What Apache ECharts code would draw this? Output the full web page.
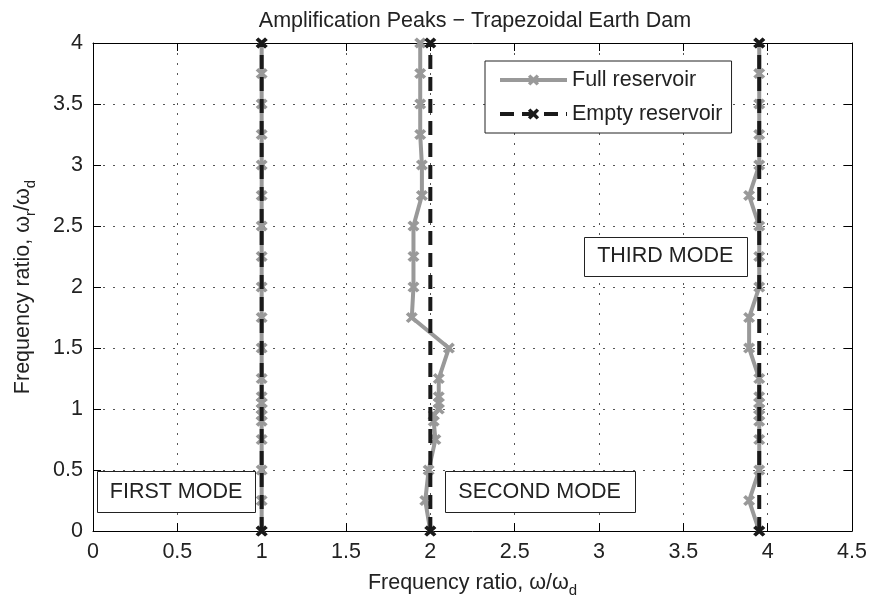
<!DOCTYPE html>
<html>
<head>
<meta charset="utf-8">
<script src="https://cdn.jsdelivr.net/npm/echarts@6/dist/echarts.min.js"></script>
<style>
  html, body { margin: 0; padding: 0; background: #fff; }
  #main { width: 872px; height: 603px; }
</style>
</head>
<body>
<div id="main"></div>
<script>
// frequency ratio wr/wd at which the peaks were read (y)
const ratioLevels = [0, 0.25, 0.5, 0.75, 0.9, 0.95, 1, 1.05, 1.1, 1.25, 1.5, 1.75, 2, 2.25, 2.5, 2.75, 3, 3.25, 3.5, 3.75, 4]
// peak positions w/wd, full reservoir
const fullFirst = [1, 1, 1, 1, 1, 1, 1, 1, 1, 1, 1, 1, 1, 1, 1, 1, 1, 1, 1, 1, 1]
const fullSecond = [2.0, 1.97, 1.99, 2.03, 2.02, 2.02, 2.05, 2.05, 2.05, 2.05, 2.11, 1.89, 1.9, 1.9, 1.9, 1.95, 1.95, 1.94, 1.94, 1.94, 1.94]
const fullThird = [3.95, 3.89, 3.95, 3.95, 3.95, 3.95, 3.95, 3.95, 3.95, 3.95, 3.89, 3.89, 3.95, 3.95, 3.95, 3.89, 3.95, 3.95, 3.95, 3.95, 3.95]
// empty reservoir (no dependence on wr)
const emptyLevels = [0, 4]
const emptyFirst = [1, 1]
const emptySecond = [2, 2]
const emptyThird = [3.95, 3.95]

const modeNames = ['FIRST MODE', 'SECOND MODE', 'THIRD MODE']
// text boxes in data units: [x0, x1, y0, y1]
const modeBoxes = [
    [0.025, 0.96, 0.15, 0.49],
    [2.085, 3.21, 0.15, 0.49],
    [2.91, 3.876, 2.09, 2.41]
]

const FONT = '"Liberation Sans", Arial, Helvetica, sans-serif'
const FS = 21.5
// bold "x" marker like matlab's with a thick line
const crossPath = 'path://M0,2.2L2.2,0L5,2.8L7.8,0L10,2.2L7.2,5L10,7.8L7.8,10L5,7.2L2.2,10L0,7.8L2.8,5Z'

const pairs = (xs, ys) => xs.map((x, i) => [x, ys[i]])

const fullStyle = (data) => ({
    name: 'Full reservoir',
    type: 'line',
    data: data,
    z: 2,
    symbol: crossPath,
    symbolSize: [12, 11],
    showAllSymbol: true,
    color: '#999999',
    lineStyle: { color: '#999999', width: 4 },
    itemStyle: { color: '#999999' },
    animation: false
})

const emptyStyle = (data) => ({
    name: 'Empty reservoir',
    type: 'line',
    data: data,
    z: 3,
    symbol: crossPath,
    symbolSize: [12, 11],
    color: '#1a1a1a',
    lineStyle: { color: '#1a1a1a', width: 4, type: [14, 8] },
    itemStyle: { color: '#1a1a1a' },
    animation: false
})

const axisCommon = {
    type: 'value',
    interval: 0.5,
    axisLine: { show: true, onZero: false, lineStyle: { color: '#000', width: 1 } },
    axisTick: { show: true, inside: true, length: 8, lineStyle: { color: '#000' } },
    axisLabel: { color: '#222', fontFamily: FONT, fontSize: FS },
    splitLine: { show: false }
}

let myEcharts = echarts.init(document.getElementById('main'))
const option = {
    backgroundColor: '#fff',
    animation: false,
    title: {
        text: 'Amplification Peaks \u2212 Trapezoidal Earth Dam',
        left: 470, top: 5, textAlign: 'center',
        textStyle: { fontFamily: FONT, fontSize: FS, fontWeight: 'normal', color: '#222' }
    },
    grid: { left: 88, right: 20, top: 43, bottom: 69, containLabel: false },
    legend: {
        left: 485, top: 61,
        orient: 'vertical',
        backgroundColor: '#fff',
        borderColor: '#222', borderWidth: 1,
        padding: [8, 9, 8, 13],
        itemGap: 12,
        itemWidth: 67, itemHeight: 14,
        lineStyle: { width: 4 },
        textStyle: { fontFamily: FONT, fontSize: FS, color: '#222' },
        data: ['Full reservoir', 'Empty reservoir']
    },
    xAxis: [
        Object.assign({}, axisCommon, {
            min: 0, max: 4.5, position: 'bottom',
            name: 'Frequency ratio, \u03c9/\u03c9{sub|d}',
            nameLocation: 'middle', nameGap: 36,
            nameTextStyle: { fontFamily: FONT, fontSize: FS, color: '#222', lineHeight: 30,
                rich: { sub: { fontFamily: FONT, fontSize: 15, color: '#222', lineHeight: 15, verticalAlign: 'bottom' } } },
            axisLabel: { color: '#222', fontFamily: FONT, fontSize: FS, margin: 10 },
            splitLine: { show: true, lineStyle: { color: '#555', width: 1, type: [2, 8] } }
        }),
        Object.assign({}, axisCommon, { min: 0, max: 4.5, position: 'top', axisLabel: { show: false } })
    ],
    yAxis: [
        Object.assign({}, axisCommon, {
            min: 0, max: 4, position: 'left',
            name: 'Frequency ratio, \u03c9{sub|r}/\u03c9{sub|d}',
            nameLocation: 'middle', nameGap: 55,
            nameTextStyle: { fontFamily: FONT, fontSize: FS, color: '#222', lineHeight: 30,
                rich: { sub: { fontFamily: FONT, fontSize: 15, color: '#222', lineHeight: 15, verticalAlign: 'bottom' } } },
            axisLabel: { color: '#222', fontFamily: FONT, fontSize: FS, margin: 10 },
            splitLine: { show: true, lineStyle: { color: '#555', width: 1, type: [2, 8] } }
        }),
        Object.assign({}, axisCommon, { min: 0, max: 4, position: 'right', axisLabel: { show: false } })
    ],
    series: [
        fullStyle(pairs(fullFirst, ratioLevels)),
        fullStyle(pairs(fullSecond, ratioLevels)),
        fullStyle(pairs(fullThird, ratioLevels)),
        emptyStyle(pairs(emptyFirst, emptyLevels)),
        emptyStyle(pairs(emptySecond, emptyLevels)),
        emptyStyle(pairs(emptyThird, emptyLevels))
    ]
}
myEcharts.setOption(option)

// mode label boxes, placed from data coordinates
const graphics = []
modeBoxes.forEach((b, i) => {
    const p0 = myEcharts.convertToPixel({ gridIndex: 0 }, [b[0], b[3]])
    const p1 = myEcharts.convertToPixel({ gridIndex: 0 }, [b[1], b[2]])
    graphics.push({
        type: 'rect', z: 10,
        shape: { x: Math.round(p0[0]) + 0.5, y: Math.round(p0[1]) + 0.5, width: Math.round(p1[0] - p0[0]), height: Math.round(p1[1] - p0[1]) },
        style: { fill: '#fff', stroke: '#222', lineWidth: 1 }
    })
    graphics.push({
        type: 'text', z: 11,
        x: (p0[0] + p1[0]) / 2, y: (p0[1] + p1[1]) / 2,
        style: { text: modeNames[i], fontFamily: FONT, fontSize: FS, fill: '#222', align: 'center', verticalAlign: 'middle' }
    })
})
myEcharts.setOption({ graphic: graphics })
</script>
</body>
</html>
